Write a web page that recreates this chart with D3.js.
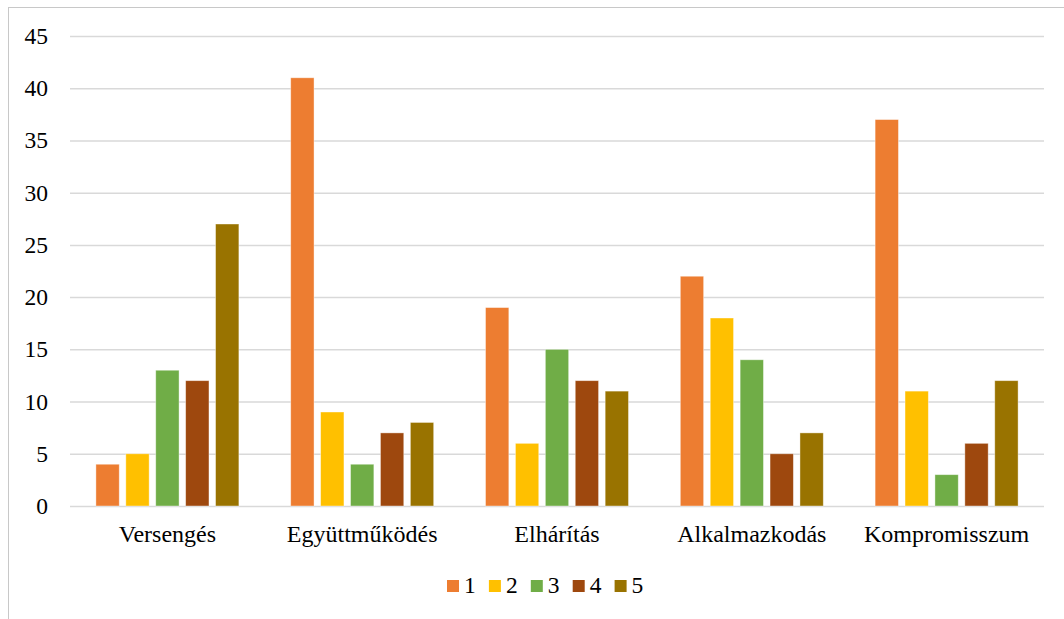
<!DOCTYPE html>
<html>
<head>
<meta charset="utf-8">
<script src="https://cdn.jsdelivr.net/npm/d3@7"></script>
<style>
  body { margin: 0; background: #fff; }
  svg { display: block; }
</style>
</head>
<body>
<div id="chart"></div>
<script>
// categories and series
const categories = ['Versengés', 'Együttműködés', 'Elhárítás', 'Alkalmazkodás', 'Kompromisszum'];
const seriesNames = ['1', '2', '3', '4', '5'];
const series1 = [4, 41, 19, 22, 37];
const series2 = [5, 9, 6, 18, 11];
const series3 = [13, 4, 15, 14, 3];
const series4 = [12, 7, 12, 5, 6];
const series5 = [27, 8, 11, 7, 12];
const yTicks = [0, 5, 10, 15, 20, 25, 30, 35, 40, 45];

const colors = ['#ED7D31', '#FFC000', '#70AD47', '#9E480E', '#997300'];
const allSeries = [series1, series2, series3, series4, series5];

const width = 1064;
const height = 619;
const font = "'Liberation Serif', 'Times New Roman', serif";

const svg = d3.select('#chart')
  .append('svg')
  .attr('width', width)
  .attr('height', height);

// chart border (cut by the page edge on right and bottom)
svg.append('rect')
  .attr('x', 8.5)
  .attr('y', 7.5)
  .attr('width', width + 20)
  .attr('height', height + 20)
  .attr('fill', 'none')
  .attr('stroke', '#c8c8c8')
  .attr('stroke-width', 1);

const plot = { left: 70, right: 1044, top: 36, bottom: 506 };

const x0 = d3.scaleBand()
  .domain(categories)
  .range([plot.left, plot.right])
  .paddingInner(0.266)
  .paddingOuter(0.133);

const x1 = d3.scaleBand()
  .domain(seriesNames)
  .range([0, x0.bandwidth()])
  .paddingInner(0.22);

const y = d3.scaleLinear()
  .domain([0, 45])
  .range([plot.bottom, plot.top]);

// gridlines
svg.append('g')
  .selectAll('line')
  .data(yTicks)
  .enter()
  .append('line')
  .attr('x1', plot.left)
  .attr('x2', plot.right)
  .attr('y1', (d) => y(d) + 0.5)
  .attr('y2', (d) => y(d) + 0.5)
  .attr('stroke', '#d9d9d9')
  .attr('stroke-width', 1.5);

// y axis labels
const yAxis = d3.axisLeft(y).tickValues(yTicks).tickSize(0).tickPadding(0);
const yG = svg.append('g')
  .attr('transform', 'translate(' + 48 + ',0)')
  .call(yAxis);
yG.select('.domain').remove();
yG.attr('font-family', font).attr('font-size', 23.5);
yG.selectAll('text')
  .style('font-family', font)
  .style('font-size', '23.5px')
  .attr('fill', '#000');

// bars
const groups = svg.append('g')
  .selectAll('g')
  .data(categories)
  .enter()
  .append('g')
  .attr('transform', (d) => 'translate(' + x0(d) + ',0)');

groups.selectAll('rect')
  .data((c, ci) => seriesNames.map((s, si) => ({ s: s, si: si, v: allSeries[si][ci] })))
  .enter()
  .append('rect')
  .attr('x', (d) => x1(d.s))
  .attr('y', (d) => y(d.v))
  .attr('width', x1.bandwidth())
  .attr('height', (d) => y(0) - y(d.v))
  .attr('fill', (d) => colors[d.si])
  .attr('stroke', '#fff')
  .attr('stroke-opacity', 0.5)
  .attr('stroke-width', 0.8);

// x axis labels
const xAxis = d3.axisBottom(x0).tickSize(0).tickPadding(0);
const xG = svg.append('g')
  .attr('transform', 'translate(0,' + 524.5 + ')')
  .call(xAxis);
xG.select('.domain').remove();
xG.attr('font-family', font).attr('font-size', 24);
xG.selectAll('text')
  .style('font-family', font)
  .style('font-size', '24px')
  .attr('fill', '#000');

// legend
const legend = svg.append('g')
  .attr('transform', 'translate(447,580)');
const item = legend.selectAll('g')
  .data(seriesNames)
  .enter()
  .append('g')
  .attr('transform', (d, i) => 'translate(' + i * 41.9 + ',0)');
item.append('rect')
  .attr('width', 12)
  .attr('height', 12)
  .attr('fill', (d, i) => colors[i]);
item.append('text')
  .attr('x', 17)
  .attr('y', 13)
  .style('font-family', font)
  .style('font-size', '23.5px')
  .attr('fill', '#000')
  .text((d) => d);
</script>
</body>
</html>
